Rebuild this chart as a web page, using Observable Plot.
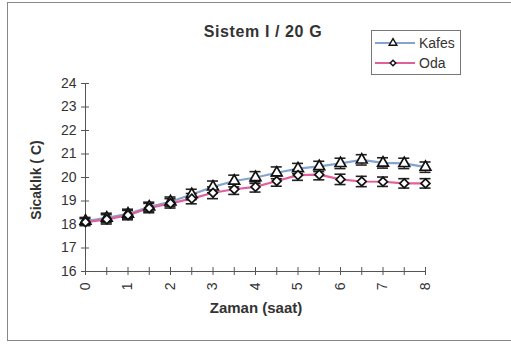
<!DOCTYPE html>
<html>
<head>
<meta charset="utf-8">
<script src="https://cdn.jsdelivr.net/npm/d3@7"></script>
<script src="https://cdn.jsdelivr.net/npm/@observablehq/plot@0.6"></script>
<style>
  body { margin: 0; background: #fff; font-family: "Liberation Sans", Arial, sans-serif; }
  #wrap { position: relative; width: 511px; height: 347px; overflow: hidden; }
  #wrap svg.plot { position: absolute; left: 0; top: 0; }
  .frame { position: absolute; left: 7px; top: 2px; width: 520px; height: 337px; border: 1px solid #888; }
  .title { position: absolute; left: 113px; width: 300px; top: 23px; text-align: center; font-weight: bold; font-size: 16px; letter-spacing: 0.6px; color: #333; }
  .xtitle { position: absolute; left: 106px; width: 300px; top: 299px; text-align: center; font-weight: bold; font-size: 15px; color: #333; }
  .ytitle { position: absolute; left: -114px; width: 300px; top: 172px; text-align: center; font-weight: bold; font-size: 14px; color: #333; transform: rotate(-90deg); }
  .legend { position: absolute; left: 371px; top: 30px; width: 88px; height: 43px; border: 1px solid #777; background: #fff; }
  .legend svg { position: absolute; left: 0; top: 0; }
</style>
</head>
<body>
<div id="wrap">
  <div class="frame"></div>
</div>
<script>
const times = [0, 0.5, 1, 1.5, 2, 2.5, 3, 3.5, 4, 4.5, 5, 5.5, 6, 6.5, 7, 7.5, 8];
const kafes = [18.15, 18.28, 18.45, 18.75, 18.97, 19.28, 19.6, 19.85, 20.0, 20.2, 20.38, 20.47, 20.6, 20.75, 20.62, 20.6, 20.44];
const oda   = [18.1, 18.22, 18.4, 18.7, 18.9, 19.1, 19.35, 19.5, 19.6, 19.85, 20.1, 20.12, 19.92, 19.83, 19.82, 19.75, 19.75];
const kafesErr = [0.15, 0.2, 0.2, 0.2, 0.2, 0.22, 0.25, 0.25, 0.25, 0.25, 0.22, 0.22, 0.22, 0.22, 0.22, 0.22, 0.22];
const odaErr   = [0.15, 0.2, 0.2, 0.2, 0.2, 0.22, 0.25, 0.22, 0.22, 0.22, 0.22, 0.22, 0.22, 0.22, 0.2, 0.2, 0.2];
const series = ["Kafes", "Oda"];
const lineColors = ["#85a3cf", "#e0609a"];
const symbols = ["triangle", "diamond2"];
const xTickLabels = [0, 1, 2, 3, 4, 5, 6, 7, 8];
const yTicks = [16, 17, 18, 19, 20, 21, 22, 23, 24];
const titleText = "Sistem I / 20 G";
const xTitle = "Zaman (saat)";
const yTitle = "Sicaklık ( C)";

const data = [];
times.forEach((t, i) => {
  data.push({t, v: kafes[i], e: kafesErr[i], s: "Kafes"});
  data.push({t, v: oda[i], e: odaErr[i], s: "Oda"});
});
const capHalf = 0.13;
const yTickHalf = 0.094;  // hours (~4px)
const xTickHalf = 0.17;   // degrees (~4px)

const chart = Plot.plot({
  width: 511, height: 347,
  marginLeft: 85, marginRight: 86, marginTop: 83, marginBottom: 76,
  style: {fontFamily: "Liberation Sans, Arial, sans-serif", fontSize: "14px", color: "#333", background: "transparent"},
  x: {domain: [0, 8], axis: null},
  y: {domain: [16, 24], axis: null},
  color: {domain: series, range: lineColors},
  symbol: {domain: series, range: symbols},
  marks: [
    Plot.ruleX([0], {stroke: "#555"}),
    Plot.ruleY([16], {stroke: "#555"}),
    Plot.ruleY(yTicks, {y: d => d, x1: -yTickHalf, x2: yTickHalf, stroke: "#555"}),
    Plot.ruleX(times, {x: d => d, y1: 16 - xTickHalf, y2: 16 + xTickHalf, stroke: "#555"}),
    Plot.text(yTicks, {x: 0, y: d => d, text: d => String(d), dx: -9, textAnchor: "end", fontSize: 14, fill: "#333"}),
    Plot.text(xTickLabels, {x: d => d, y: 16, text: d => String(d), dy: 11, rotate: -90, textAnchor: "end", fontSize: 14, fill: "#333"}),
    Plot.line(data, {x: "t", y: "v", z: "s", stroke: "s", strokeWidth: 2.2}),
    Plot.ruleX(data, {x: "t", y1: d => d.v - d.e, y2: d => d.v + d.e, stroke: "#222", strokeWidth: 1.3}),
    Plot.ruleY(data, {y: d => d.v + d.e, x1: d => d.t - capHalf, x2: d => d.t + capHalf, stroke: "#222", strokeWidth: 1.6}),
    Plot.ruleY(data, {y: d => d.v - d.e, x1: d => d.t - capHalf, x2: d => d.t + capHalf, stroke: "#222", strokeWidth: 1.6}),
    Plot.dot(data, {x: "t", y: "v", symbol: "s", r: 4, fill: "white", stroke: "#111", strokeWidth: 1.7})
  ]
});
chart.classList.add("plot");
const wrap = document.getElementById("wrap");
wrap.appendChild(chart);

function addDiv(cls, text) {
  const d = document.createElement("div");
  d.className = cls;
  d.textContent = text;
  wrap.appendChild(d);
}
addDiv("title", titleText);
addDiv("xtitle", xTitle);
addDiv("ytitle", yTitle);

// Legend
const leg = document.createElement("div");
leg.className = "legend";
const ns = "http://www.w3.org/2000/svg";
const lsvg = document.createElementNS(ns, "svg");
lsvg.setAttribute("width", 88); lsvg.setAttribute("height", 43);
series.forEach((s, i) => {
  const y = 12 + i * 20;
  const line = document.createElementNS(ns, "line");
  line.setAttribute("x1", 3); line.setAttribute("x2", 43);
  line.setAttribute("y1", y); line.setAttribute("y2", y);
  line.setAttribute("stroke", lineColors[i]); line.setAttribute("stroke-width", 2.2);
  lsvg.appendChild(line);
  const sym = i === 0 ? d3.symbolTriangle : d3.symbolSquare;
  const p = document.createElementNS(ns, "path");
  p.setAttribute("d", d3.symbol(sym, i === 0 ? 26 : 16)());
  p.setAttribute("transform", `translate(21,${y})` + (i === 1 ? " rotate(45)" : ""));
  p.setAttribute("fill", "white"); p.setAttribute("stroke", "#111"); p.setAttribute("stroke-width", 1.4);
  lsvg.appendChild(p);
  const t = document.createElementNS(ns, "text");
  t.setAttribute("x", 47); t.setAttribute("y", y + 5);
  t.setAttribute("font-size", 14); t.setAttribute("fill", "#333");
  t.setAttribute("font-family", "Liberation Sans, Arial, sans-serif");
  t.textContent = s;
  lsvg.appendChild(t);
});
leg.appendChild(lsvg);
wrap.appendChild(leg);
</script>
</body>
</html>
